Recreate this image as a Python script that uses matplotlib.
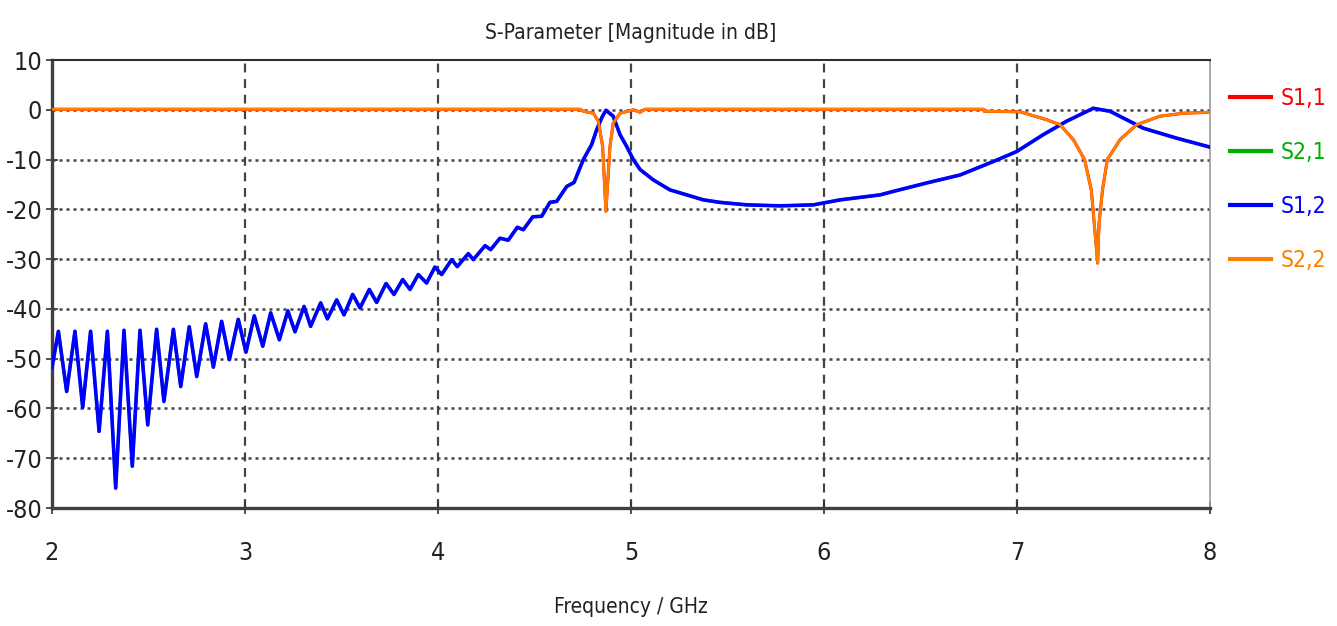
import matplotlib
matplotlib.use("Agg")
import matplotlib.pyplot as plt

plt.rcParams['font.family'] = ['DejaVu Sans']
plt.rcParams['font.stretch'] = 'condensed'
plt.rcParams['axes.unicode_minus'] = False

# =========================
# DATA
# =========================

# S1,2 (transmission) - frequency in GHz, magnitude in dB
s12_f = [2.000, 2.033, 2.076, 2.119, 2.159, 2.200, 2.244, 2.287, 2.330, 2.373,
         2.416, 2.456, 2.496, 2.542, 2.580, 2.629, 2.667, 2.711, 2.750, 2.796,
         2.836, 2.879, 2.919, 2.965, 3.005, 3.048, 3.092, 3.133, 3.178, 3.222,
         3.259, 3.306, 3.340, 3.392, 3.427, 3.475, 3.513, 3.558, 3.596, 3.644,
         3.682, 3.731, 3.772, 3.817, 3.855, 3.898, 3.941, 3.984, 4.019, 4.071,
         4.100, 4.157, 4.183, 4.244, 4.273, 4.321, 4.364, 4.411, 4.442, 4.491,
         4.537, 4.580, 4.615, 4.667, 4.705, 4.753, 4.796, 4.822, 4.850, 4.870,
         4.908, 4.943, 4.978, 5.012, 5.047, 5.116, 5.202, 5.289, 5.375, 5.461,
         5.599, 5.772, 5.945, 6.083, 6.187, 6.290, 6.359, 6.532, 6.705, 6.877,
         6.998, 7.136, 7.257, 7.395, 7.482, 7.654, 7.827, 8.000]
s12_db = [-51.8, -44.5, -56.6, -44.5, -59.8, -44.5, -64.6, -44.5, -76.0, -44.3,
          -71.6, -44.3, -63.3, -44.1, -58.6, -44.1, -55.6, -43.6, -53.6, -43.0,
          -51.7, -42.5, -50.2, -42.1, -48.7, -41.4, -47.5, -40.8, -46.2, -40.4,
          -44.6, -39.5, -43.5, -38.8, -42.0, -38.2, -41.2, -37.1, -39.8, -36.1,
          -38.7, -34.9, -37.1, -34.1, -36.1, -33.1, -34.8, -31.6, -33.1, -30.1,
          -31.5, -28.9, -30.1, -27.3, -28.1, -25.8, -26.2, -23.6, -24.1, -21.5,
          -21.4, -18.6, -18.4, -15.4, -14.6, -10.0, -7.0, -4.0, -1.5, -0.1,
          -1.3, -5.0, -7.4, -10.0, -12.0, -14.1, -16.1, -17.1, -18.1, -18.6,
          -19.1, -19.3, -19.1, -18.1, -17.6, -17.1, -16.4, -14.7, -13.1, -10.4,
          -8.4, -5.0, -2.3, 0.3, -0.3, -3.7, -5.7, -7.5]

# S2,2 (reflection)
s22_f = [2.000, 4.736, 4.753, 4.805, 4.831, 4.853, 4.870, 4.891, 4.908, 4.943,
         5.012, 5.047, 5.073, 6.826, 6.830, 7.015, 7.154, 7.223, 7.292, 7.350,
         7.385, 7.400, 7.418, 7.425, 7.443, 7.468, 7.534, 7.620, 7.740, 7.860,
         8.000]
s22_db = [0.1, 0.1, -0.3, -0.7, -2.3, -7.4, -20.4, -7.4, -2.7, -0.7,
          0.0, -0.5, 0.1, 0.1, -0.3, -0.4, -2.0, -3.0, -6.0, -10.0,
          -16.1, -22.8, -30.8, -22.8, -16.1, -10.0, -6.0, -3.0, -1.3, -0.7,
          -0.5]

# S1,1 and S2,1 are hidden beneath S2,2 and S1,2
s11_f, s11_db = s22_f, s22_db
s21_f, s21_db = s12_f, s12_db

x_ticks = [2, 3, 4, 5, 6, 7, 8]
y_ticks = [10, 0, -10, -20, -30, -40, -50, -60, -70, -80]

# =========================
# PLOT
# =========================

fig = plt.figure(figsize=(13.37, 6.26), dpi=100)
ax = fig.add_axes([52 / 1337, 118 / 626, 1158 / 1337, 448 / 626])

ax.plot(s11_f, s11_db, color="#ff0000", lw=2.2, label="S1,1")
ax.plot(s21_f, s21_db, color="#00b000", lw=2.2, label="S2,1")
ax.plot(s12_f, s12_db, color="#0000ff", lw=2.6, label="S1,2", zorder=4,
        solid_joinstyle="round")
ax.plot(s22_f, s22_db, color="#ff7f00", lw=2.0, label="S2,2", zorder=5,
        solid_joinstyle="round")

ax.set_xlim(2, 8)
ax.set_ylim(-80, 10)
ax.set_xticks(x_ticks)
ax.set_yticks(y_ticks)
ax.tick_params(direction="inout", length=8, width=1.2, colors="#333333",
               labelcolor="#222222", labelsize=18)
ax.tick_params(axis="x", pad=20)
ax.tick_params(axis="y", pad=3)

# grid: dashed verticals, dotted horizontals
for xv in x_ticks[1:-1]:
    ax.axvline(xv, color="#444444", lw=1.6, ls=(0, (4, 3)), zorder=1)
for yv in y_ticks[1:-1]:
    ax.axhline(yv, color="#444444", lw=1.8, ls=(0, (1.2, 1.6)), zorder=1)

for side in ["left", "bottom"]:
    ax.spines[side].set_color("#404040")
    ax.spines[side].set_linewidth(2.4)
ax.spines["top"].set_color("#303030")
ax.spines["top"].set_linewidth(1.5)
ax.spines["right"].set_color("#999999")
ax.spines["right"].set_linewidth(1.2)

fig.text(631 / 1337, 1 - 33 / 626, "S-Parameter [Magnitude in dB]",
         ha="center", va="center", fontsize=15, color="#222222")
fig.text(631 / 1337, 1 - 607 / 626, "Frequency / GHz",
         ha="center", va="center", fontsize=15, color="#222222")

leg = ax.legend(loc="upper left", bbox_to_anchor=(1230 / 1337, 1 - 87 / 626),
                bbox_transform=fig.transFigure, frameon=False, fontsize=16.5,
                labelcolor="linecolor", handlelength=1.8, handletextpad=0.4,
                labelspacing=1.35, borderpad=0, borderaxespad=0)
for line in leg.get_lines():
    line.set_linewidth(3)

fig.savefig("out.png", dpi=100)
